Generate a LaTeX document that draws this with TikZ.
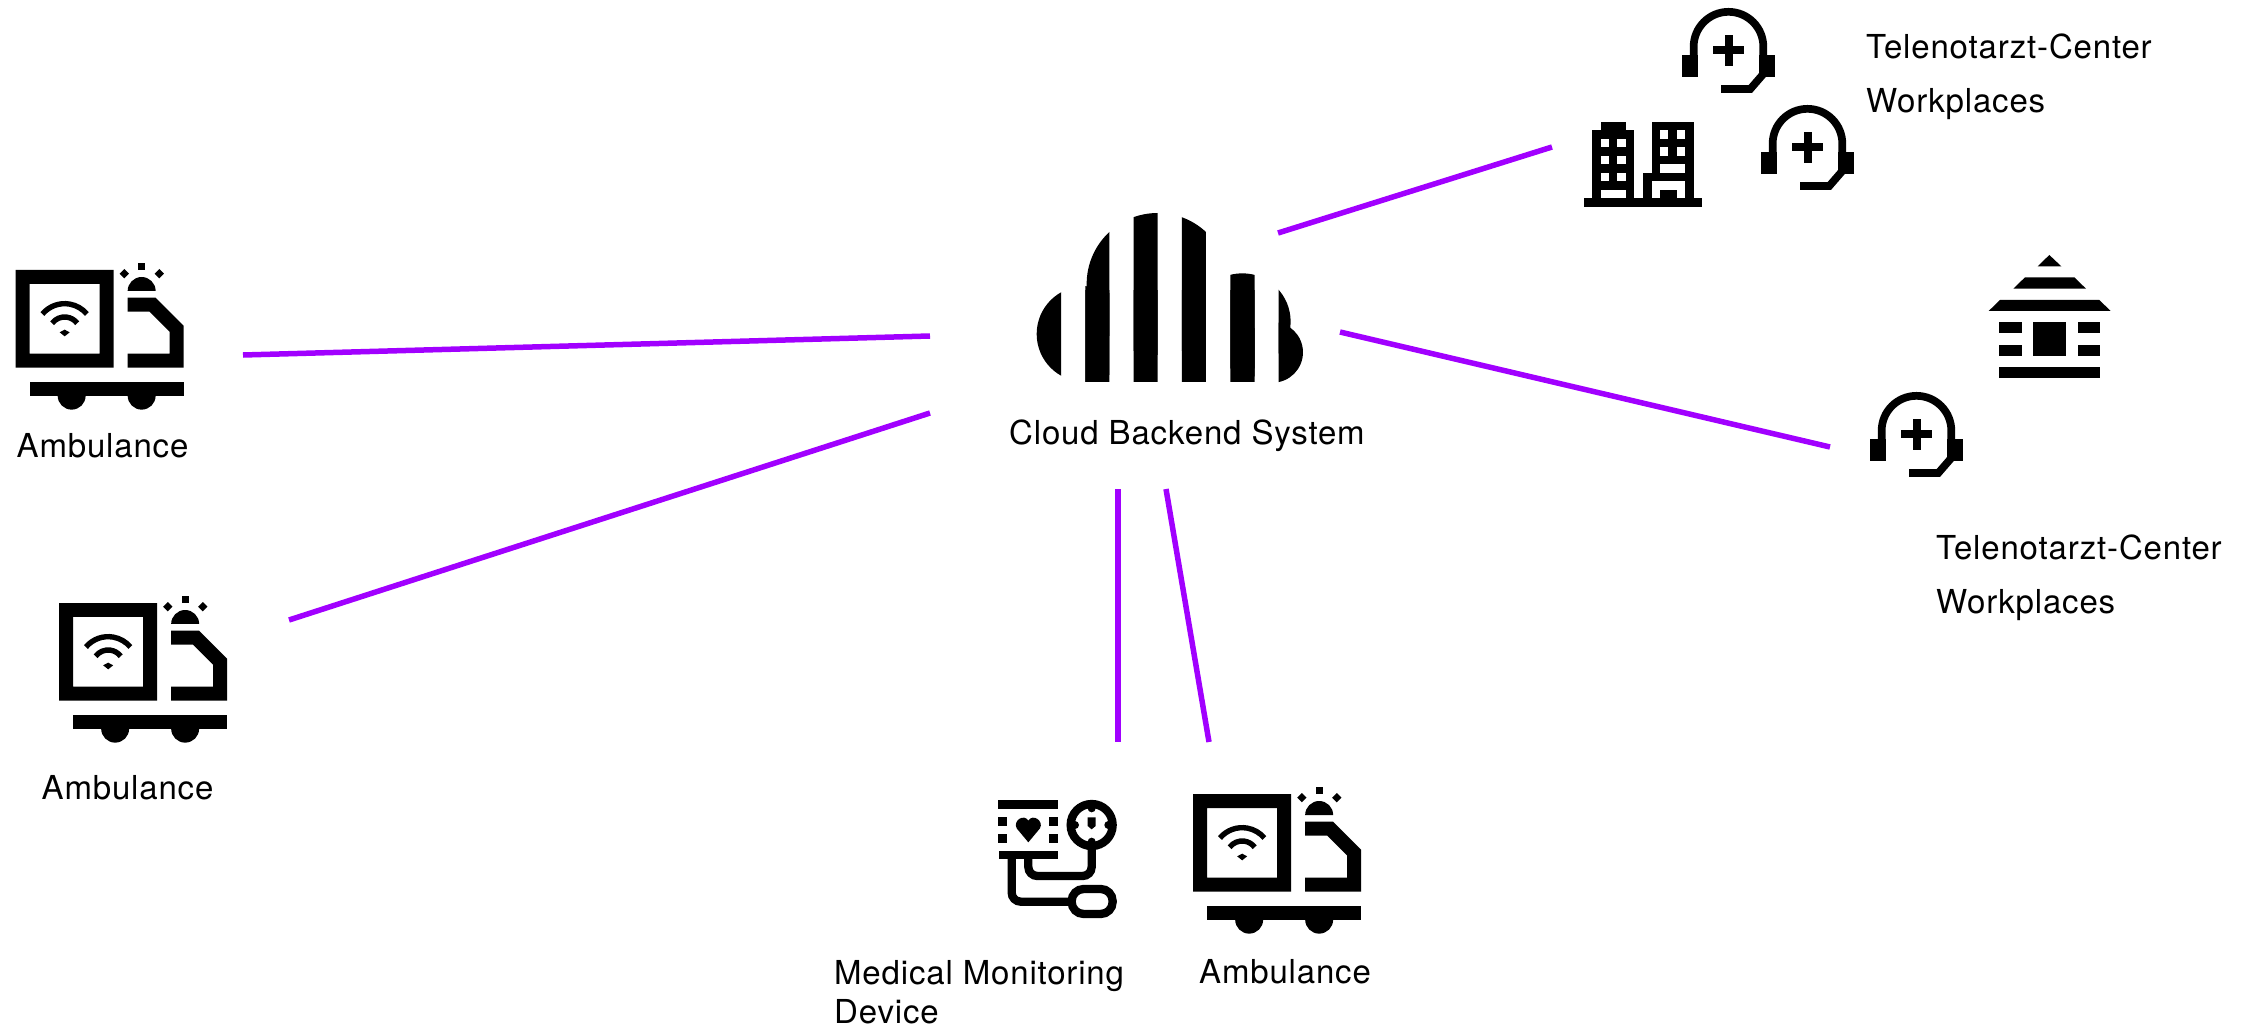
\documentclass[tikz,border=0pt]{standalone}
\usepackage{fontspec}
\setmainfont[LetterSpace=2.5]{TeX Gyre Heros}
\usepackage{tikz}
\usetikzlibrary{calc}
\definecolor{linkpurple}{HTML}{A100FF}
\tikzstyle{link} = [draw=linkpurple, line width=5.5pt]
\tikzstyle{caption} = [anchor=base west, inner sep=0pt, font=\fontsize{33}{36}\selectfont]
\tikzstyle{icongrid} = [x=0.3333pt, y=-0.3333pt]
\tikzset{
  ambulance/.pic={
    \begin{scope}[icongrid]
      \fill[even odd rule] (47,90) rectangle (341,383) (89,132) rectangle (299,341);
      \fill (383,173) -- (467,173) -- (551,257) -- (551,383) -- (383,383) -- (383,341) -- (509,341) -- (509,275) -- (449,215) -- (383,215) -- cycle;
      \fill (383,153) arc[start angle=180, end angle=360, radius=42] -- cycle;
      \fill (415,70) rectangle (436,90);
      \fill (373,87) -- (387,101) -- (373,115) -- (359,101) -- cycle;
      \fill (478,87) -- (492,101) -- (478,115) -- (464,101) -- cycle;
      \fill (89,425) rectangle (551,467);
      \fill (173,467) arc[start angle=180, end angle=0, radius=42] -- cycle;
      \fill (383,467) arc[start angle=180, end angle=0, radius=42] -- cycle;
      \draw[line width=5.4pt] (194,278) ++(-140:87) arc[start angle=-140, end angle=-40, radius=87];
      \draw[line width=5.4pt] (194,278) ++(-143:47) arc[start angle=-143, end angle=-37, radius=47];
      \fill (179,277) -- (194,269) -- (209,277) -- (194,289) -- cycle;
    \end{scope}
  },
  headset/.pic={
    \begin{scope}[icongrid]
      \fill (367,164) rectangle (413,232);
      \fill (598,164) rectangle (645,232);
      \draw[line width=7.7pt] (401,170) -- (401,140) arc[start angle=180, end angle=360, radius=104.5] -- (610,222) -- (571,267) -- (483,267);
      \fill (460,139) rectangle (553,162);
      \fill (494,105) rectangle (520,197);
    \end{scope}
  },
  building/.pic={
    \begin{scope}[icongrid]
      \fill (71,595) rectangle (427,621);
      \fill (97,391) rectangle (223,595);
      \fill (122,366) rectangle (198,391);
      \fill (275,366) rectangle (401,595);
      \fill (249,518) rectangle (275,595);
      \foreach \winy in {416,467,518} {
        \fill[white] (122,\winy) rectangle +(25,26);
        \fill[white] (172,\winy) rectangle +(26,26);
      }
      \foreach \winy in {391,442} {
        \fill[white] (300,\winy) rectangle +(25,25);
        \fill[white] (351,\winy) rectangle +(25,25);
      }
      \fill[white] (122,570) rectangle (198,595);
      \fill[white] (300,493) rectangle (376,518);
      \fill[white] (275,544) rectangle (376,595);
      \fill (300,570) rectangle (351,595);
    \end{scope}
  },
  house/.pic={
    \begin{scope}[icongrid]
      \fill (563,79) -- (598,45) -- (634,79) -- cycle;
      \fill (490,146) -- (525,112) -- (673,112) -- (708,146) -- cycle;
      \fill (416,213) -- (450,180) -- (748,180) -- (782,213) -- cycle;
      \fill (448,246) rectangle (515,280);
      \fill (683,246) rectangle (750,280);
      \fill (448,314) rectangle (515,347);
      \fill (683,314) rectangle (750,347);
      \fill (549,246) rectangle (649,347);
      \fill (448,381) rectangle (750,414);
    \end{scope}
  },
  cloud/.pic={
    \begin{scope}[icongrid]
      \clip (110,60) rectangle (183,600) (256,60) rectangle (328,600) (401,60) rectangle (473,600)
        (546,60) rectangle (618,600) (691,60) rectangle (764,600) (836,60) rectangle (915,600);
      \fill (253.5,432) circle (143.5);
      \fill (473,282) circle (213);
      \fill (727,395) circle (145);
      \fill (818,487) circle (91);
      \fill (253,300) rectangle (818,577);
    \end{scope}
  },
  monitor/.pic={
    \begin{scope}[icongrid]
      \fill (54,60) rectangle (234,86);
      \fill (57,213) rectangle (234,238);
      \fill (54,111) rectangle (80,137);
      \fill (54,162) rectangle (80,188);
      \fill (208,111) rectangle (234,137);
      \fill (208,162) rectangle (234,188);
      \fill (145,187) -- (110,145) .. controls (98,122) and (132,100) .. (145,122) .. controls (158,100) and (192,122) .. (180,145) -- cycle;
      \draw[line width=8.3pt] (335,135) circle (63);
      \fill (335,85) circle (12);
      \fill (335,185) circle (12);
      \fill (285,135) circle (12);
      \fill (385,135) circle (12);
      \fill (323,112) -- (347,112) -- (347,138) -- (335,148) -- (323,138) -- cycle;
      \draw[line width=8.3pt, rounded corners=9pt] (145,230) -- (145,288) -- (335,288) -- (335,200);
      \draw[line width=8.3pt, rounded corners=9pt] (95,230) -- (95,365) -- (275,365);
      \draw[line width=8.3pt, rounded corners=12pt] (275,327) rectangle (398,402);
    \end{scope}
  }
}
\begin{document}
\begin{tikzpicture}[x=1pt, y=-1pt]
        \useasboundingbox (0, 0) rectangle (2254, 1027);

        \pic at (0, 240) {ambulance};
        \pic at (43.5, 573) {ambulance};
        \pic at (1177.5, 764) {ambulance};
        \pic at (1000, 190) {cloud};
        \pic at (1560, 0) {building};
        \pic at (1560, 0) {headset};
        \pic at (1639, 97) {headset};
        \pic at (1748, 384) {headset};
        \pic at (1850, 240) {house};
        \pic at (980, 780) {monitor};

        \node[caption] at (16.5, 457) (AmbulanceOne) {Ambulance};
        \node[caption] at (41.5, 799) (AmbulanceTwo) {Ambulance};
        \node[caption] at (1199, 983) (AmbulanceThree) {Ambulance};
        \node[caption] at (1009, 444) (CloudLabel) {Cloud Backend System};
        \node[caption] at (1866, 59) (CenterOne) {Telenotarzt-Center};
        \node[caption] at (1866, 113) (PlacesOne) {Workplaces};
        \node[caption] at (1936, 559) (CenterTwo) {Telenotarzt-Center};
        \node[caption] at (1936, 613) (PlacesTwo) {Workplaces};
        \node[caption] at (834, 984) (MedicalOne) {Medical Monitoring};
        \node[caption] at (834, 1023) (MedicalTwo) {Device};

        \coordinate (CloudA) at (930, 336);
        \coordinate (CloudB) at (930, 413);
        \coordinate (CloudC) at (1278, 233);
        \coordinate (CloudD) at (1340, 332);
        \coordinate (CloudE) at (1118, 489);
        \coordinate (CloudF) at (1166, 489);
        \coordinate (AmbOne) at (243, 355);
        \coordinate (AmbTwo) at (289, 620);
        \coordinate (Tower) at (1552, 147);
        \coordinate (Desk) at (1830, 447);
        \coordinate (Monitor) at (1118, 742);
        \coordinate (AmbThree) at (1209, 742);

        \draw[link] (AmbOne) -- (CloudA);
        \draw[link] (AmbTwo) -- (CloudB);
        \draw[link] (CloudC) -- (Tower);
        \draw[link] (CloudD) -- (Desk);
        \draw[link] (CloudE) -- (Monitor);
        \draw[link] (CloudF) -- (AmbThree);
    \end{tikzpicture}
\end{document}
